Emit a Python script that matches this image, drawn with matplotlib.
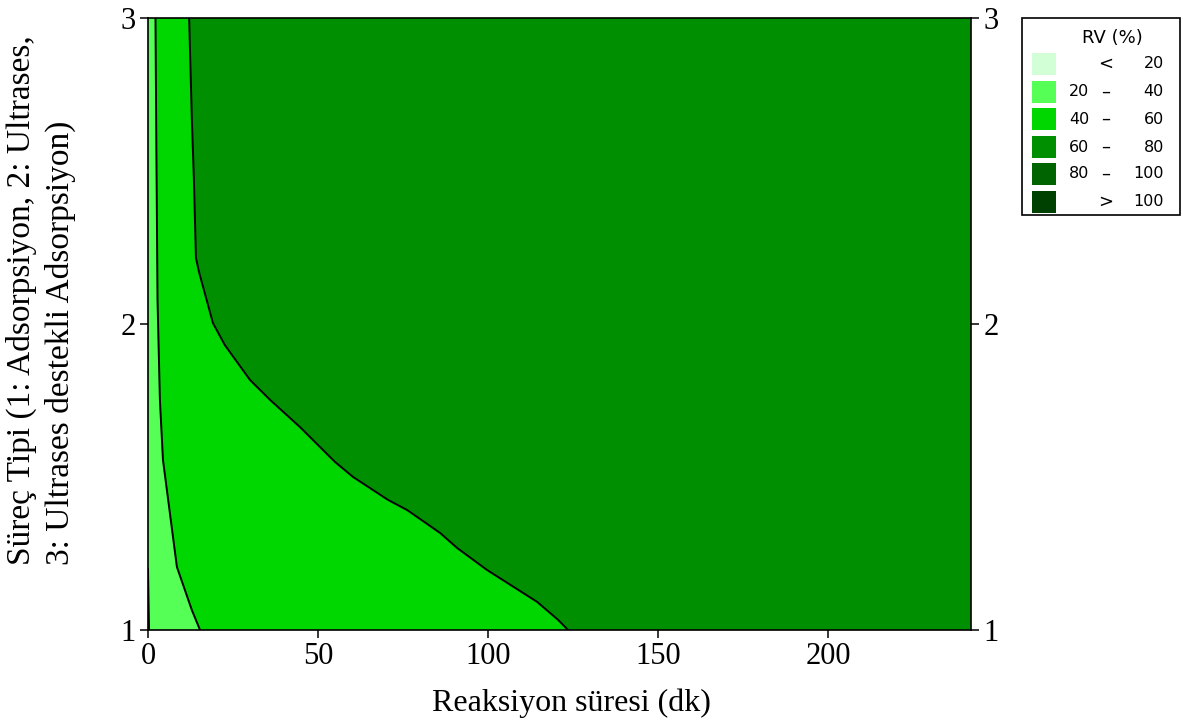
import numpy as np
import matplotlib
matplotlib.use("Agg")
import matplotlib.pyplot as plt
from matplotlib.patches import Rectangle

# ---- data: contour boundaries (x = reaction time, y = process type) ----
c20_x = [0.3, 0.0]
c20_y = [1.0, 1.2]

c40_x = [15.3, 12.9, 8.5, 4.4, 3.5, 2.8, 2.4, 2.2]
c40_y = [1.0, 1.065, 1.206, 1.556, 1.752, 2.078, 2.667, 3.0]

c60_x = [123.5, 120.6, 114.4, 99.7, 90.9, 85.9, 76.2, 70.6, 60.3, 55.0,
         44.7, 35.9, 30.0, 22.6, 19.1, 15.0, 14.1, 13.5, 12.9, 12.1]
c60_y = [1.0, 1.033, 1.092, 1.196, 1.268, 1.317, 1.392, 1.425, 1.500, 1.549,
         1.663, 1.752, 1.817, 1.931, 2.003, 2.170, 2.216, 2.471, 2.667, 3.0]

x_max = 242
y_min, y_max = 1, 3

level_labels = [("", "<", "20"), ("20", "\u2013", "40"), ("40", "\u2013", "60"),
                ("60", "\u2013", "80"), ("80", "\u2013", "100"), ("", ">", "100")]
level_colors = ["#d2ffd6", "#55ff55", "#00d600", "#008f00", "#006400", "#004000"]

xticks = [0, 50, 100, 150, 200]
yticks = [1, 2, 3]

# ---- figure ----
W, H = 1183, 724
fig = plt.figure(figsize=(W / 100, H / 100), dpi=100)
ax = fig.add_axes([148 / W, 1 - 630 / H, (971 - 148) / W, (630 - 18) / H])

ax.fill([0] + c40_x[::-1] + [0], [y_max] + c40_y[::-1] + [y_min],
        color=level_colors[1], lw=0)
ax.fill([0] + c20_x, [y_min] + c20_y, color=level_colors[0], lw=0)
ax.fill(c40_x + c60_x[::-1], c40_y + c60_y[::-1], color=level_colors[2], lw=0)
ax.fill(c60_x + [x_max, x_max], c60_y + [y_max, y_min], color=level_colors[3], lw=0)

for cx, cy in [(c20_x, c20_y), (c40_x, c40_y), (c60_x, c60_y)]:
    ax.plot(cx, cy, color="black", lw=1.4)

ax.set_xlim(0, x_max)
ax.set_ylim(y_min, y_max)
ax.set_xticks(xticks)
ax.set_yticks(yticks)
serif = "Liberation Serif"
ax.tick_params(axis="both", direction="out", length=6, width=1.1,
               labelsize=22, pad=3)
ax.tick_params(axis="y", right=True, labelright=True)
for lab in ax.get_xticklabels() + ax.get_yticklabels():
    lab.set_fontfamily(serif)
for t in ax.yaxis.get_major_ticks():
    t.label2.set_fontfamily(serif)
    t.label2.set_fontsize(22)
for sp in ax.spines.values():
    sp.set_linewidth(1.2)

fig.text(571 / W, 1 - 703 / H, "Reaksiyon süresi (dk)", ha="center", va="center",
         fontsize=23, family=serif)
fig.text(41 / W, 1 - 300 / H,
         "Süreç Tipi (1: Adsorpsiyon, 2: Ultrases,\n3: Ultrases destekli Adsorpsiyon)",
         rotation=90, ha="center", va="center", multialignment="left",
         fontsize=24, family=serif, linespacing=1.3)

# ---- legend (drawn in pixel space overlay) ----
lg = fig.add_axes([0, 0, 1, 1], facecolor="none")
lg.set_xlim(0, W)
lg.set_ylim(H, 0)
lg.axis("off")
lg.add_patch(Rectangle((1022, 18), 158, 197, fill=False, ec="black", lw=1.2))
lg.text(1112, 38, "RV (%)", ha="center", va="center", fontsize=13,
        family="DejaVu Sans")
row_y = [64, 92, 119, 147, 174, 202]
for (a, s, b), c, yy in zip(level_labels, level_colors, row_y):
    lg.add_patch(Rectangle((1032, yy - 11), 24, 22, color=c, lw=0))
    lg.text(1069, yy, a, ha="left", va="center", fontsize=11.5, family="DejaVu Sans")
    lg.text(1106, yy, s, ha="center", va="center", fontsize=13, family="DejaVu Sans")
    lg.text(1164, yy, b, ha="right", va="center", fontsize=11.5, family="DejaVu Sans")

fig.savefig("out.png", dpi=100)
